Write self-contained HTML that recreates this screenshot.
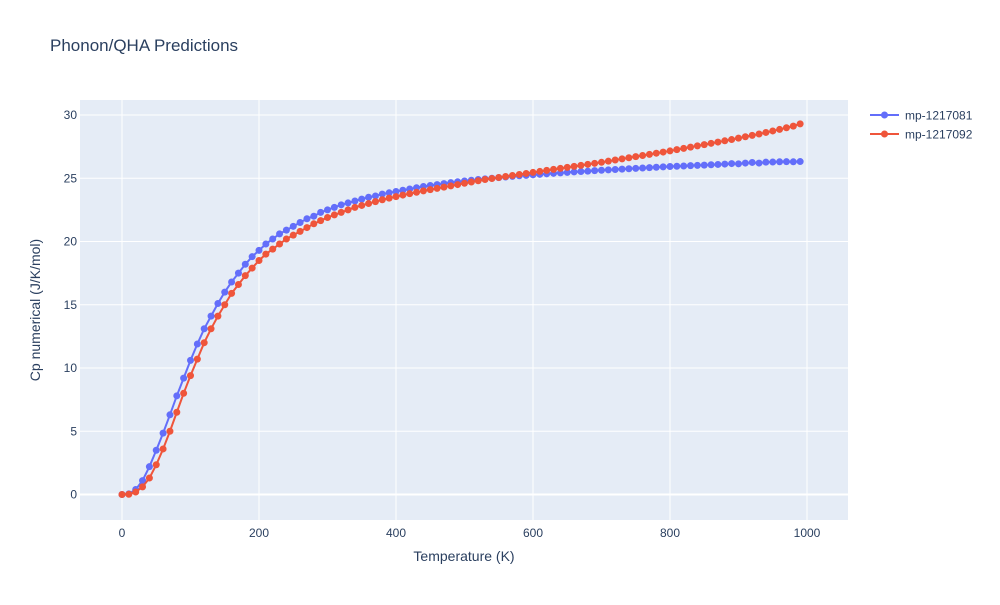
<!DOCTYPE html>
<html><head><meta charset="utf-8"><style>
body{margin:0;background:#fff;font-family:"Liberation Sans",sans-serif;}
svg text{font-family:"Liberation Sans",sans-serif;fill:#2a3f5f;}
</style></head><body>
<svg id="chart" width="1000" height="600">
<rect x="0" y="0" width="1000" height="600" fill="#fff"/>
<rect x="80" y="100" width="768" height="420" fill="#e5ecf6"/>
<g id="grid"></g>
<g id="series"></g>
<g id="ticks"></g>
<text x="50" y="51" font-size="17">Phonon/QHA Predictions</text>
<text x="464" y="561" font-size="14" text-anchor="middle">Temperature (K)</text>
<text x="40" y="310" font-size="14" text-anchor="middle" transform="rotate(-90 40 310)">Cp numerical (J/K/mol)</text>
<g id="legend"></g>
</svg>
<script>
const temps = [];
for (let i = 0; i < 100; i++) temps.push(i * 10);
const series1Name = "mp-1217081";
const series2Name = "mp-1217092";
const series1 = [0,0.05,0.4,1.1,2.2,3.5,4.85,6.3,7.8,9.2,
10.6,11.9,13.1,14.1,15.1,16.0,16.8,17.5,18.2,18.8,
19.3,19.8,20.2,20.6,20.9,21.2,21.5,21.8,22.0,22.3,
22.5,22.7,22.9,23.05,23.2,23.35,23.5,23.6,23.75,23.85,
23.95,24.05,24.15,24.25,24.35,24.43,24.5,24.58,24.65,24.72,
24.78,24.84,24.9,24.95,25.0,25.05,25.1,25.15,25.2,25.23,
25.27,25.31,25.35,25.39,25.42,25.46,25.5,25.53,25.56,25.6,
25.63,25.66,25.69,25.72,25.75,25.78,25.81,25.84,25.87,25.9,
25.93,25.95,25.97,26.0,26.02,26.04,26.07,26.09,26.12,26.16,
26.14,26.2,26.25,26.2,26.27,26.28,26.3,26.31,26.3,26.32];
const series2 = [0,0.02,0.2,0.6,1.3,2.35,3.6,5.0,6.5,8.0,
9.4,10.7,12.0,13.1,14.1,15.0,15.9,16.6,17.3,17.9,
18.5,19.0,19.4,19.8,20.2,20.5,20.8,21.1,21.4,21.65,
21.9,22.1,22.3,22.5,22.7,22.85,23.0,23.15,23.3,23.43,
23.55,23.67,23.78,23.89,24.0,24.1,24.2,24.3,24.4,24.5,
24.6,24.7,24.8,24.9,24.98,25.06,25.14,25.22,25.3,25.38,
25.46,25.54,25.62,25.7,25.78,25.86,25.94,26.02,26.1,26.18,
26.26,26.35,26.44,26.53,26.62,26.71,26.8,26.89,26.98,27.07,
27.16,27.26,27.36,27.46,27.56,27.66,27.76,27.86,27.96,28.06,
28.17,28.28,28.39,28.5,28.62,28.74,28.86,28.99,29.12,29.3];
const xTicks = [0,200,400,600,800,1000];
const yTicks = [0,5,10,15,20,25,30];

const NS = "http://www.w3.org/2000/svg";
const xS = v => 122 + v * 0.685;
const yS = v => 494.5 - v * 12.65;
function mk(tag, attrs, parent) {
  const e = document.createElementNS(NS, tag);
  for (const k in attrs) e.setAttribute(k, attrs[k]);
  parent.appendChild(e);
  return e;
}
const grid = document.getElementById("grid");
const ticks = document.getElementById("ticks");
xTicks.forEach(t => {
  const l = mk("line", {x1: xS(t), x2: xS(t), y1: 100, y2: 520, stroke: "#fff", "stroke-width": 1}, grid);
  
  
  const tx = mk("text", {x: xS(t), y: 537, "font-size": 12, "text-anchor": "middle"}, ticks);
  tx.textContent = t;
  
  
});
yTicks.forEach(t => {
  const l = mk("line", {x1: 80, x2: 848, y1: yS(t), y2: yS(t), stroke: "#fff", "stroke-width": t === 0 ? 2 : 1}, grid);
  
  
  const tx = mk("text", {x: 77, y: yS(t) + 4, "font-size": 12, "text-anchor": "end"}, ticks);
  tx.textContent = t;
  
  
});
const sg = document.getElementById("series");
function draw(vals, color, name) {
  const g = mk("g", {}, sg);
  
  
  const pts = vals.map((v, i) => xS(temps[i]) + "," + yS(v)).join(" ");
  const pl = mk("polyline", {points: pts, fill: "none", stroke: color, "stroke-width": 2}, g);
  
  
  vals.forEach((v, i) => {
    const c = mk("circle", {cx: xS(temps[i]), cy: yS(v), r: 3.5, fill: color}, g);
    
    
  });
}
draw(series1, "#636efa", series1Name);
draw(series2, "#ef553b", series2Name);
const lg = document.getElementById("legend");
[[series1Name, "#636efa", 115], [series2Name, "#ef553b", 134]].forEach(([n, c, y]) => {
  const g = mk("g", {}, lg);
  
  
  mk("line", {x1: 870, x2: 899, y1: y, y2: y, stroke: c, "stroke-width": 2}, g);
  mk("circle", {cx: 884.5, cy: y, r: 3.5, fill: c}, g);
  const t = mk("text", {x: 905, y: y + 4.5, "font-size": 12}, g);
  t.textContent = n;
});
</script>
</body></html>
